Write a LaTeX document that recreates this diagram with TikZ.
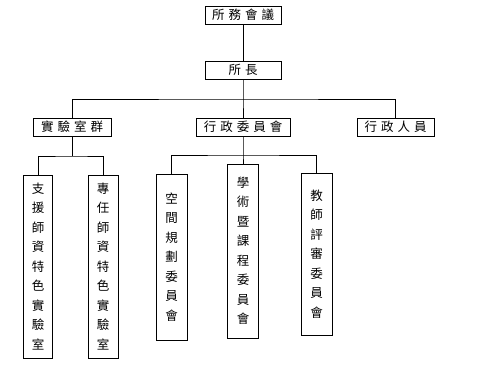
\documentclass[tikz,border=0pt]{standalone}
\usepackage{fontspec}
\newfontfamily\cjk{Noto Sans CJK TC}
\newcommand\kgap{\hspace{4pt}}
\tikzset{
  unit/.style={draw, line width=0.8pt, inner sep=0pt, minimum height=18pt, font=\cjk\fontsize{12.5}{13}\selectfont},
  column/.style={draw, line width=0.8pt, inner sep=0pt, align=center, font=\cjk\fontsize{12.5}{19.5}\selectfont},
  link/.style={line width=0.8pt}
}

\begin{document}
\begin{tikzpicture}[x=1pt,y=-1pt]
\useasboundingbox (0,0) rectangle (486,380);
\node[unit, minimum width=76pt] (council) at (243,15) {所\kgap 務\kgap 會\kgap 議};
\node[unit, minimum width=76pt] (director) at (243,70) {所\kgap 長};
\node[unit, minimum width=78pt] (lab) at (72,127) {實\kgap 驗\kgap 室\kgap 群};
\node[unit, minimum width=94pt] (adm) at (243,127) {行\kgap 政\kgap 委\kgap 員\kgap 會};
\node[unit, minimum width=77pt] (staff) at (395.5,127) {行\kgap 政\kgap 人\kgap 員};
\node[column, minimum width=29pt, minimum height=183pt] (sup) at (38,266.5) {支\\援\\師\\資\\特\\色\\實\\驗\\室};
\node[column, minimum width=30pt, minimum height=183pt] (ful) at (103,266.5) {專\\任\\師\\資\\特\\色\\實\\驗\\室};
\node[column, minimum width=31pt, minimum height=166pt] (space) at (171.5,257) {空\\間\\規\\劃\\委\\員\\會};
\node[column, minimum width=31pt, minimum height=174pt] (acad) at (243,251) {學\\術\\暨\\課\\程\\委\\員\\會};
\node[column, minimum width=31pt, minimum height=162pt] (eval) at (316.5,254) {教\\師\\評\\審\\委\\員\\會};
\coordinate (b1) at (243,99);
\coordinate (b2) at (72,156);
\coordinate (b3) at (243,155);
\draw[link] (council) -- (director);
\draw[link] (director) -- (b1) -- (adm);
\draw[link] (lab) |- (b1) -| (staff);
\draw[link] (lab) -- (b2);
\draw[link] (sup) |- (b2) -| (ful);
\draw[link] (adm) -- (b3) -- (acad);
\draw[link] (space) |- (b3) -| (eval);
\end{tikzpicture}
\end{document}
